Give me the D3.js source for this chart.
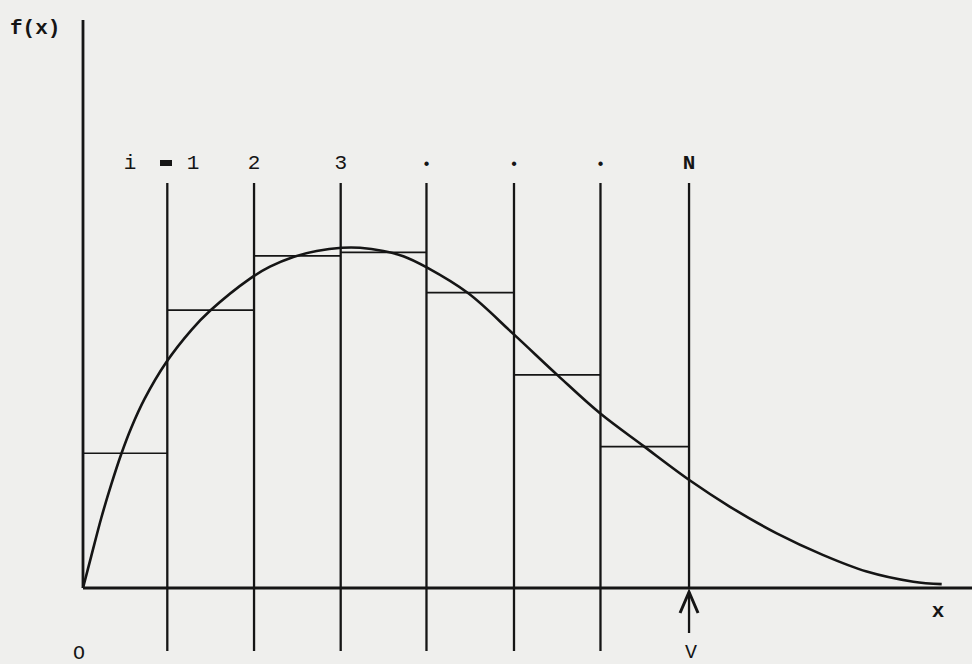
<!DOCTYPE html>
<html><head><meta charset="utf-8">
<script src="https://cdn.jsdelivr.net/npm/d3@7"></script>
<style>html,body{margin:0;padding:0;background:#efefed;}svg{display:block;}</style>
</head><body>
<svg id="chart" width="972" height="664"></svg>
<script>
// Bin edges (x in bin units), step heights, curve points
const binEdges = [0, 0.969, 1.966, 2.962, 3.948, 4.954, 5.948, 6.966];
const binHeights = [38.5, 79.4, 94.9, 95.9, 84.4, 60.9, 40.4];
const binLabels = ["1", "2", "3", "\u2022", "\u2022", "\u2022", "N"];
const curveX = [0, 0.095, 0.210, 0.325, 0.440, 0.555, 0.709, 0.957, 1.245, 1.460, 1.920, 2.149, 2.417, 2.686, 2.974, 3.184, 3.452, 3.682, 3.951, 4.429, 4.946, 5.463, 5.943, 6.440, 6.977, 7.437, 7.974, 8.509, 9.008, 9.544, 9.870];
const curveY = [0, 9.1, 20.0, 29.6, 38.3, 45.8, 54.1, 64.5, 73.7, 79.2, 88.4, 91.8, 94.6, 96.3, 97.2, 97.2, 96.3, 94.8, 91.6, 84.2, 72.6, 60.6, 49.9, 40.6, 30.7, 23.2, 15.6, 9.4, 4.7, 1.8, 1.1];

const svg = d3.select("#chart");
const ink = "#151515";
const x = d3.scaleLinear().domain([0, 7]).range([83, 692]);
const y = d3.scaleLinear().domain([0, 100]).range([588, 238]);

// axes
svg.append("line").attr("x1", x(0)).attr("x2", 972).attr("y1", y(0)).attr("y2", y(0))
  .attr("stroke", ink).attr("stroke-width", 2.8);
svg.append("line").attr("x1", x(0)).attr("x2", x(0)).attr("y1", 20).attr("y2", y(0))
  .attr("stroke", ink).attr("stroke-width", 2.8);

// bin boundary lines
binEdges.slice(1).forEach((e, i) => {
  const last = i === binEdges.length - 2;
  svg.append("line").attr("x1", x(e)).attr("x2", x(e))
    .attr("y1", 183).attr("y2", last ? y(0) : 651)
    .attr("stroke", ink).attr("stroke-width", 2.3);
});

// step heights
binHeights.forEach((h, i) => {
  svg.append("line").attr("x1", x(binEdges[i])).attr("x2", x(binEdges[i + 1]))
    .attr("y1", y(h)).attr("y2", y(h))
    .attr("stroke", ink).attr("stroke-width", 1.7);
});

// curve
const pts = curveX.map((d, i) => [d, curveY[i]]);
svg.append("path").datum(pts)
  .attr("d", d3.line().x(d => x(d[0])).y(d => y(d[1])).curve(d3.curveCatmullRom.alpha(0.5)))
  .attr("fill", "none").attr("stroke", ink).attr("stroke-width", 2.6);

// labels
const font = "'Liberation Mono', 'DejaVu Sans Mono', monospace";
svg.append("text").attr("x", 10).attr("y", 34).text("f(x)")
  .attr("font-family", font).attr("font-size", 21).attr("font-weight", "bold").attr("fill", ink);
svg.append("text").attr("x", 130).attr("y", 169).text("i")
  .attr("font-family", font).attr("font-size", 21).attr("text-anchor", "middle").attr("fill", ink);
svg.append("rect").attr("x", 160).attr("y", 160).attr("width", 12).attr("height", 6).attr("fill", ink);
binLabels.forEach((l, i) => {
  const cx = i === 0 ? 193 : x(binEdges[i + 1]);
  svg.append("text").attr("x", cx).attr("y", 169).text(l)
    .attr("font-family", font).attr("font-size", l === "\u2022" ? 16 : 21)
    .attr("font-weight", l === "N" ? "bold" : "normal")
    .attr("text-anchor", "middle").attr("fill", ink);
});
svg.append("text").attr("x", 938).attr("y", 617).text("x")
  .attr("font-family", font).attr("font-size", 21).attr("font-weight", "bold").attr("text-anchor", "middle").attr("fill", ink);
svg.append("text").attr("x", 79).attr("y", 659).text("O")
  .attr("font-family", font).attr("font-size", 20).attr("text-anchor", "middle").attr("fill", ink);
svg.append("text").attr("x", 691).attr("y", 658).text("V")
  .attr("font-family", font).attr("font-size", 20).attr("text-anchor", "middle").attr("fill", ink);

// arrow under N
const ax = x(binEdges[7]);
svg.append("line").attr("x1", ax).attr("x2", ax).attr("y1", 592).attr("y2", 633)
  .attr("stroke", ink).attr("stroke-width", 2.3);
svg.append("path").attr("d", `M${ax - 9},${613} L${ax},${592} L${ax + 9},${613}`)
  .attr("fill", "none").attr("stroke", ink).attr("stroke-width", 3);
</script>
</body></html>
